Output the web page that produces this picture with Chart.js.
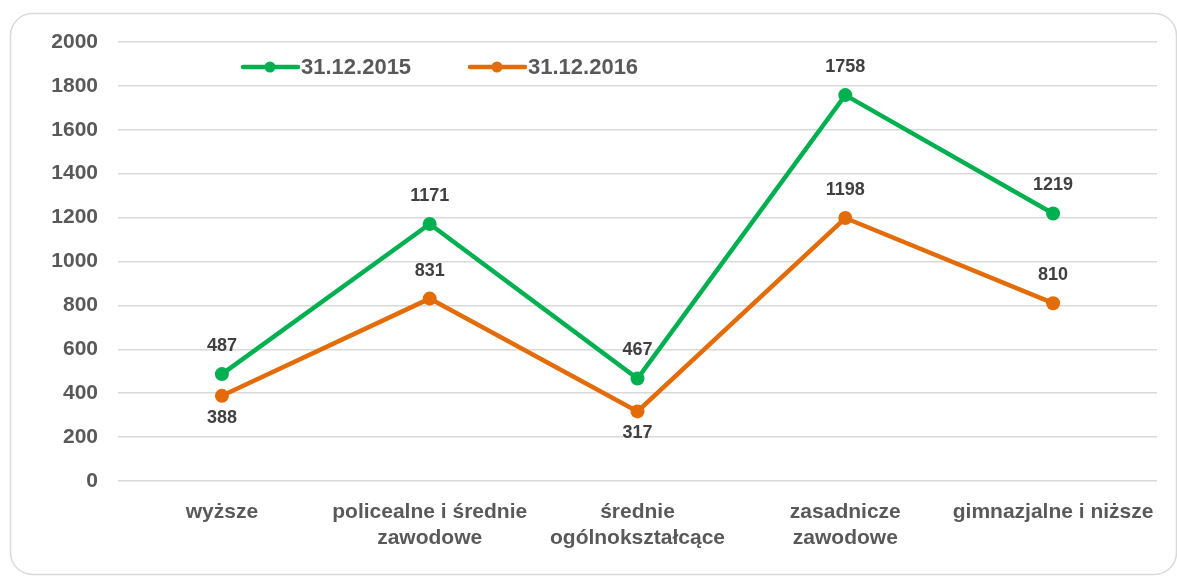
<!DOCTYPE html>
<html><head><meta charset="utf-8">
<script src="https://cdn.jsdelivr.net/npm/chart.js@4"></script>
<style>html,body{margin:0;padding:0;background:#fff}#wrap{width:1177px;height:577px;position:relative}</style>
</head><body><div id="wrap"><canvas id="c" width="1177" height="577"></canvas></div>
<script>
const categories = [["wyższe"], ["policealne i średnie", "zawodowe"], ["średnie", "ogólnokształcące"], ["zasadnicze", "zawodowe"], ["gimnazjalne i niższe"]];
const seriesNames = ["31.12.2015", "31.12.2016"];
const values2015 = [487, 1171, 467, 1758, 1219];
const values2016 = [388, 831, 317, 1198, 810];
const yTicks = [0, 200, 400, 600, 800, 1000, 1200, 1400, 1600, 1800, 2000];
const labelPlacement2015 = ["above", "above", "above", "above", "above"];
const labelPlacement2016 = ["below", "above", "below", "above", "above"];

const GREEN = "#00b050", ORANGE = "#e36c09", TXT = "#595959", LBL = "#404040";
const FONT = "'Liberation Sans', Arial, sans-serif";

const frame = {
  id: "frame",
  beforeDraw(chart) {
    const c = chart.ctx;
    c.save();
    c.strokeStyle = "#d9d9d9"; c.lineWidth = 1.5;
    c.beginPath();
    c.roundRect(10.5, 13.5, 1166, 561, 22);
    c.stroke();
    c.restore();
  }
};

const valueLabels = {
  id: "valueLabels",
  afterDatasetsDraw(chart) {
    const c = chart.ctx;
    const placements = [labelPlacement2015, labelPlacement2016];
    c.save();
    c.font = "bold 18px " + FONT;
    c.fillStyle = LBL;
    c.textAlign = "center";
    c.textBaseline = "middle";
    chart.data.datasets.forEach((ds, i) => {
      const meta = chart.getDatasetMeta(i);
      meta.data.forEach((pt, j) => {
        const dy = placements[i][j] === "above" ? -28 : 22;
        c.fillText(String(ds.data[j]), pt.x, pt.y + dy);
      });
    });
    c.restore();
  }
};

const customLegend = {
  id: "customLegend",
  afterDraw(chart) {
    const c = chart.ctx;
    const a = chart.chartArea;
    const items = [{x: a.left + 125, color: GREEN, text: seriesNames[0]}, {x: a.left + 352, color: ORANGE, text: seriesNames[1]}];
    const y = 67;
    c.save();
    items.forEach(it => {
      c.strokeStyle = it.color; c.lineWidth = 4.5; c.lineCap = "round";
      c.beginPath(); c.moveTo(it.x, y); c.lineTo(it.x + 55, y); c.stroke();
      c.fillStyle = it.color;
      c.beginPath(); c.arc(it.x + 27, y, 5.5, 0, Math.PI * 2); c.fill();
      c.fillStyle = TXT;
      c.font = "bold 22px " + FONT;
      c.textAlign = "left"; c.textBaseline = "middle";
      c.fillText(it.text, it.x + 58, y + 1);
    });
    c.restore();
  }
};

new Chart(document.getElementById("c"), {
  type: "line",
  data: {
    labels: categories,
    datasets: [
      {label: seriesNames[0], data: values2015, borderColor: GREEN, backgroundColor: GREEN, borderWidth: 4.5, pointRadius: 7, pointHoverRadius: 7, pointBackgroundColor: GREEN, pointBorderWidth: 0, tension: 0},
      {label: seriesNames[1], data: values2016, borderColor: ORANGE, backgroundColor: ORANGE, borderWidth: 4.5, pointRadius: 7, pointHoverRadius: 7, pointBackgroundColor: ORANGE, pointBorderWidth: 0, tension: 0}
    ]
  },
  options: {
    responsive: false,
    animation: false,
    events: [],
    layout: {padding: {left: 0, right: 20, top: 42, bottom: 0}},
    plugins: {legend: {display: false}, tooltip: {enabled: false}},
    scales: {
      x: {
        offset: true,
        grid: {display: false},
        border: {display: false},
        ticks: {color: TXT, font: {family: FONT, size: 21, weight: "bold", lineHeight: 1.24}, padding: 10, maxRotation: 0, autoSkip: false},
        afterFit(s) { s.height = 96; }
      },
      y: {
        min: 0, max: 2000,
        afterBuildTicks(s) { s.ticks = yTicks.map(v => ({value: v})); },
        grid: {color: "#d9d9d9", lineWidth: 1.5, drawTicks: false},
        border: {display: false},
        ticks: {color: TXT, font: {family: FONT, size: 21, weight: "bold"}, padding: 20, callback: v => String(v)},
        afterFit(s) { s.width = 118; }
      }
    }
  },
  plugins: [frame, valueLabels, customLegend]
});
</script></body></html>
